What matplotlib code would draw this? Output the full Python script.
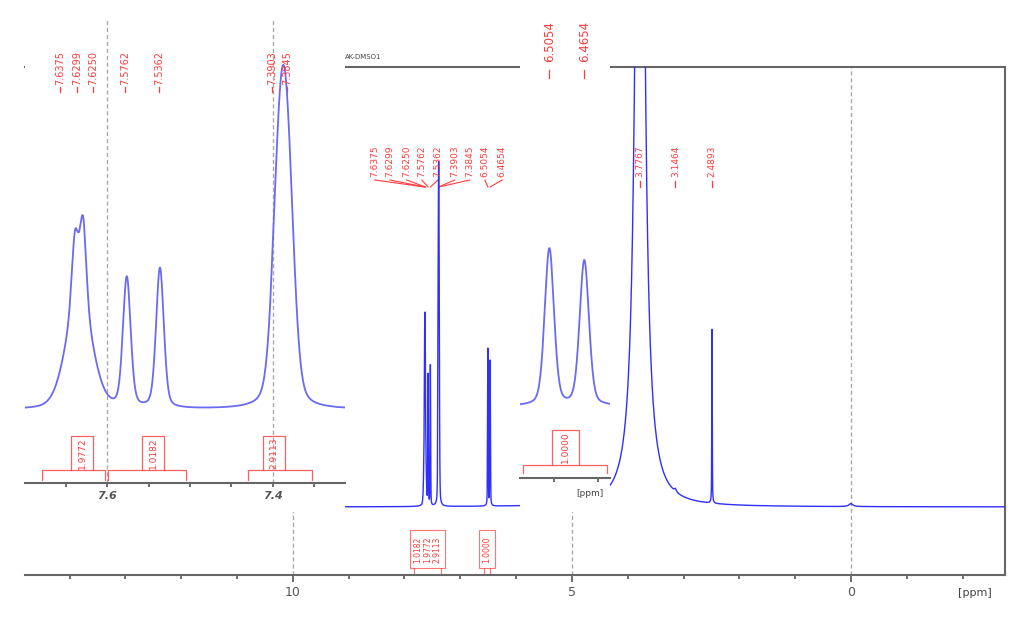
import numpy as np
import matplotlib
matplotlib.use('Agg')
import matplotlib.pyplot as plt
from matplotlib.patches import Rectangle
from matplotlib.ticker import MultipleLocator

# ---------------- data ----------------
peak_ppm    = [7.6338, 7.6387, 7.6289, 7.5762, 7.5362,
               7.3965, 7.3903, 7.3845, 7.3783, 6.5054, 6.4654,
               3.7800, 3.1464, 2.4893, 0.0000]
peak_height = [110, 68, 83, 130, 140,
               93, 142, 142, 93, 157, 145,
               1244, 3, 174, 3]
peak_fwhm   = [0.036, 0.009, 0.009, 0.011, 0.011,
               0.017, 0.017, 0.017, 0.017, 0.0126, 0.0126,
               0.143, 0.04, 0.010, 0.08]
peak_lorentz_frac = [0.2, 0.3, 0.3, 0.3, 0.3,
                     0.3, 0.3, 0.3, 0.3, 0.3, 0.3,
                     1.0, 1.0, 0.5, 1.0]

main_labels = ["7.6375", "7.6299", "7.6250", "7.5762", "7.5362",
               "7.3903", "7.3845", "6.5054", "6.4654"]
main_label_pos = [8.53, 8.26, 7.96, 7.69, 7.40, 7.10, 6.83, 6.56, 6.25]
main_label_peak = [7.6375, 7.6299, 7.6250, 7.5762, 7.5362,
                   7.3903, 7.3845, 6.5054, 6.4654]
right_labels = ["3.7767", "3.1464", "2.4893"]
right_label_pos = [3.7767, 3.1464, 2.4893]

zoomA_labels = ["7.6375", "7.6299", "7.6250", "7.5762", "7.5362", "7.3903", "7.3845"]
zoomA_label_pos = [7.6566, 7.6361, 7.6169, 7.5783, 7.5373, 7.4012, 7.3831]
zoomA_integrals = ["1.9772", "1.0182", "2.9113"]
zoomA_int_ranges = [(7.6783, 7.6024), (7.5988, 7.5048), (7.4301, 7.3530)]
zoomA_int_box = [7.6301, 7.5446, 7.3988]

zoomB_labels = ["6.5054", "6.4654"]
zoomB_label_pos = [6.5054, 6.4654]
zoomB_integrals = ["1.0000"]
zoomB_int_ranges = [(6.5356, 6.4396)]
zoomB_int_box = [6.4871]

main_int_groups = [["1.0182", "1.9772", "2.9113"], ["1.0000"]]
main_int_pos = [[7.77, 7.59, 7.41], [6.52]]

main_xticks = [10, 5, 0]
zoomA_xticks = [7.6, 7.4]
zoomA_xticklabels = ["7.6", "7.4"]
zoomB_xticks = [6.50, 6.45]

RED = '#ff3b3b'
BLUE = '#2f2fff'
LBLUE = '#6a6af2'

W, H = 1034, 621
fig = plt.figure(figsize=(W / 100, H / 100), dpi=100)


def px_axes(x0, y0, x1, y1, **kw):
    return fig.add_axes([x0 / W, 1 - y1 / H, (x1 - x0) / W, (y1 - y0) / H], **kw)


def spectrum(x):
    y = np.zeros_like(x)
    for p, h, w, eta in zip(peak_ppm, peak_height, peak_fwhm, peak_lorentz_frac):
        g = w / 2.0
        lor = g ** 2 / ((x - p) ** 2 + g ** 2)
        sig = w / 2.3548
        gau = np.exp(-(x - p) ** 2 / (2 * sig ** 2))
        y += h * (eta * lor + (1 - eta) * gau)
    return y


# ---------------- main axes ----------------
ax = px_axes(25, 67, 1005, 575)
ax.set_xlim(14.8, -2.76)
ax.set_ylim(-68, 440)
xm = np.linspace(-2.76, 14.8, 80000)
ax.plot(xm, spectrum(xm), color=BLUE, lw=1.0, zorder=3)
for t in main_xticks:
    ax.axvline(t, color='#aaaaaa', ls=(0, (3, 2)), lw=1.0, zorder=1)
ax.set_xticks(main_xticks)
ax.set_xticklabels([str(t) for t in main_xticks])
ax.xaxis.set_minor_locator(MultipleLocator(1))
ax.tick_params(axis='x', which='both', direction='out', colors='#555555',
               labelsize=9, length=3, width=1.2, pad=3)
ax.tick_params(axis='x', which='major', length=5)
ax.set_yticks([])
for s in ['top', 'right', 'bottom']:
    ax.spines[s].set_color('#666666')
    ax.spines[s].set_linewidth(1.5)
ax.spines['left'].set_visible(False)
fig.text(975 / W, 1 - 593 / H, '[ppm]', fontsize=8, color='#444444',
         ha='center', va='center')

# main peak labels (middle)
for lab, xp, pk in zip(main_labels, main_label_pos, main_label_peak):
    ax.text(xp, 330, lab, rotation=90, ha='center', va='bottom', fontsize=6.5,
            color=RED)
    ax.plot([xp, pk], [327, 320], color=RED, lw=0.8)
for lab, xp in zip(right_labels, right_label_pos):
    ax.text(xp, 330, lab, rotation=90, ha='center', va='bottom', fontsize=6.5,
            color=RED)
    ax.plot([xp, xp], [320, 326], color=RED, lw=0.9)

# main integrals below baseline
for grp, pos in zip(main_int_groups, main_int_pos):
    for lab, xp in zip(grp, pos):
        ax.text(xp, -43, lab, rotation=90, ha='center', va='center', fontsize=5.5,
                color=RED)
    x0 = max(pos) + 0.14
    x1 = min(pos) - 0.14
    ax.add_patch(Rectangle((x1, -61), x0 - x1, 38, fill=False, ec=RED, lw=0.8,
                           alpha=0.7))
    ax.plot([x0 - 0.08, x0 - 0.08], [-61, -68], color=RED, lw=0.8, alpha=0.7)
    ax.plot([x1 + 0.08, x1 + 0.08], [-61, -68], color=RED, lw=0.8, alpha=0.7)

fig.text(345 / W, 1 - 60 / H, 'AK-DMSO1', fontsize=5, color='#444444',
         ha='left', va='bottom')


def bracket(a, lo, hi, xc, bw, ybar, ybot, ytop):
    a.plot([lo, lo, xc + bw / 2], [ybot, ybar, ybar], color=RED, lw=0.9, alpha=0.8)
    a.plot([xc - bw / 2, hi, hi], [ybar, ybar, ybot], color=RED, lw=0.9, alpha=0.8)
    a.add_patch(Rectangle((xc - bw / 2, ybar), bw, ytop - ybar, fill=False, ec=RED,
                          lw=0.9, alpha=0.8))


# ---------------- zoom A (7.7 - 7.3) ----------------
axA = px_axes(25, 0, 345, 512)
axA.set_facecolor('white')
axA.set_xlim(7.699, 7.313)
axA.set_ylim(-102, 410)
xa = np.linspace(7.313, 7.699, 4000)
axA.plot(xa, spectrum(xa), color=LBLUE, lw=1.3, zorder=3)
for t in zoomA_xticks:
    axA.plot([t, t], [-73, 390], color='#aaaaaa', ls=(0, (3, 2)), lw=1.0, zorder=1)
for s in ['top', 'right', 'left']:
    axA.spines[s].set_visible(False)
axA.spines['bottom'].set_position(('data', -73))
axA.spines['bottom'].set_color('#666666')
axA.spines['bottom'].set_linewidth(1.5)
axA.set_xticks(zoomA_xticks)
axA.set_xticklabels(zoomA_xticklabels, fontstyle='italic', fontweight='bold')
axA.xaxis.set_minor_locator(MultipleLocator(0.05))
axA.tick_params(axis='x', which='both', direction='out', colors='#555555',
                labelsize=8, length=3, width=1.2, pad=3)
axA.set_yticks([])
for lab, xp in zip(zoomA_labels, zoomA_label_pos):
    axA.text(xp, 325, lab, rotation=90, ha='center', va='bottom', fontsize=7,
             color=RED)
    axA.plot([xp, xp], [318, 323], color=RED, lw=0.9)
for lab, (lo, hi), xc in zip(zoomA_integrals, zoomA_int_ranges, zoomA_int_box):
    bracket(axA, lo, hi, xc, 0.026, -60, -70, -26)
    axA.text(xc, -43, lab, rotation=90, ha='center', va='center', fontsize=6.5,
             color=RED)

# ---------------- zoom B (6.54 - 6.44) ----------------
axB = px_axes(520, 0, 610, 512)
axB.set_facecolor('white')
axB.set_xlim(6.539, 6.436)
axB.set_ylim(-105, 407)
xb = np.linspace(6.436, 6.539, 2000)
axB.plot(xb, spectrum(xb), color=LBLUE, lw=1.3, zorder=3)
for s in ['top', 'right', 'left']:
    axB.spines[s].set_visible(False)
axB.spines['bottom'].set_position(('data', -71))
axB.spines['bottom'].set_color('#666666')
axB.spines['bottom'].set_linewidth(1.5)
axB.set_xticks(zoomB_xticks)
axB.set_xticklabels([])
axB.tick_params(axis='x', which='both', direction='out', colors='#555555',
                length=3, width=1.2)
axB.set_yticks([])
fig.text(590 / W, 1 - 494 / H, '[ppm]', fontsize=6.5, color='#444444',
         ha='center', va='center')
for lab, xp in zip(zoomB_labels, zoomB_label_pos):
    axB.text(xp, 345, lab, rotation=90, ha='center', va='bottom', fontsize=8.5,
             color=RED)
    axB.plot([xp, xp], [329, 337], color=RED, lw=0.9)
for lab, (lo, hi), xc in zip(zoomB_integrals, zoomB_int_ranges, zoomB_int_box):
    bracket(axB, lo, hi, xc, 0.031, -58, -66, -23)
    axB.text(xc, -40, lab, rotation=90, ha='center', va='center', fontsize=6.5,
             color=RED)

fig.savefig('out.png', dpi=100, facecolor='white')
